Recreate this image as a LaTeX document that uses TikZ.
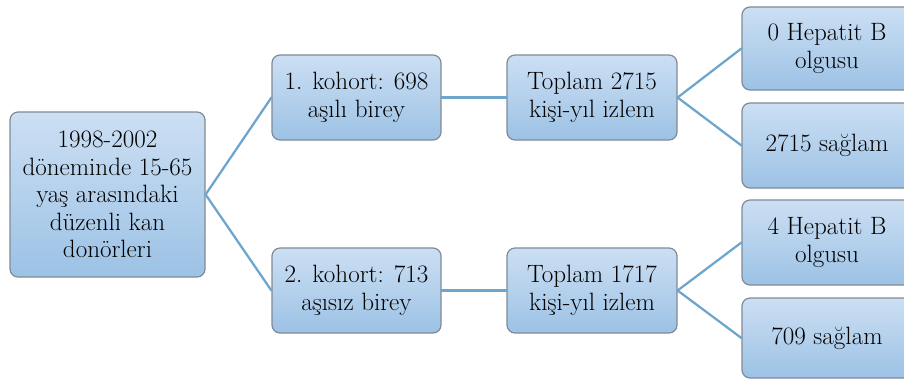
\documentclass[tikz,border=0pt]{standalone}
\usepackage{fontspec}
\definecolor{boxtop}{RGB}{204,223,243}
\definecolor{boxbot}{RGB}{156,194,229}
\definecolor{boxline}{RGB}{128,138,150}
\definecolor{linkc}{RGB}{110,165,205}
\begin{document}
\begin{tikzpicture}[x=0.75pt, y=-0.75pt, line join=round, line cap=round,
  font=\rmfamily\fontsize{18.8}{20.6}\selectfont,
  box/.style={draw=boxline, line width=0.9pt, rounded corners=6pt,
    top color=boxtop, bottom color=boxbot, align=center, inner sep=0pt},
  link/.style={draw=linkc, line width=1.7pt}]
\useasboundingbox (0,0) rectangle (904,380);
\node[box, minimum width=146.25pt, minimum height=123.75pt] (root) at (107.5,194.5)
  {1998-2002\\döneminde 15-65\\yaş arasındaki\\düzenli kan\\donörleri};
\node[box, minimum width=126.75pt, minimum height=63.75pt] (k1) at (356.5,97.5) {1. kohort: 698\\aşılı birey};
\node[box, minimum width=126.75pt, minimum height=63.75pt] (k2) at (356.5,290.5) {2. kohort: 713\\aşısız birey};
\node[box, minimum width=127.5pt, minimum height=63.75pt] (t1) at (592,97.5) {Toplam 2715\\kişi-yıl izlem};
\node[box, minimum width=127.5pt, minimum height=63.75pt] (t2) at (592,290.5) {Toplam 1717\\kişi-yıl izlem};
\node[box, minimum width=127.5pt, minimum height=62.25pt] (r1) at (827,48.5) {0 Hepatit B\\olgusu};
\node[box, minimum width=127.5pt, minimum height=63.75pt] (r2) at (827,145.5) {2715 sağlam};
\node[box, minimum width=127.5pt, minimum height=63.75pt] (r3) at (827,242.5) {4 Hepatit B\\olgusu};
\node[box, minimum width=127.5pt, minimum height=60pt] (r4) at (827,338) {709 sağlam};
\foreach \a/\b in {root/k1,root/k2,k1/t1,k2/t2,t1/r1,t1/r2,t2/r3,t2/r4}
\draw[link] (\a.east)--(\b.west);
\end{tikzpicture}
\end{document}
